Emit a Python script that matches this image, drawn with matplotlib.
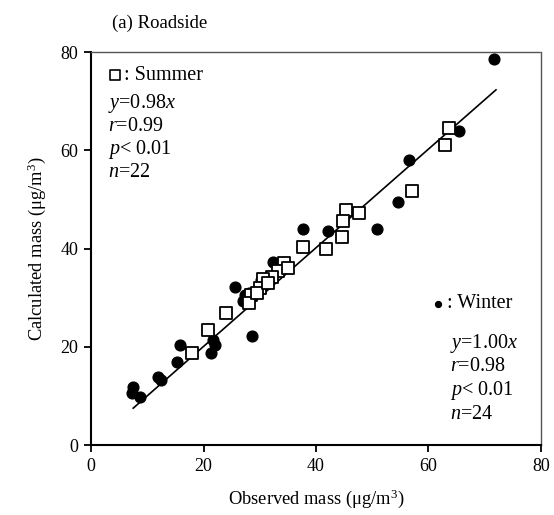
import matplotlib
matplotlib.use("Agg")
import matplotlib.pyplot as plt

plt.rcParams['font.family'] = ['Liberation Serif', 'DejaVu Serif']
plt.rcParams['mathtext.fontset'] = 'custom'
plt.rcParams['mathtext.rm'] = 'Liberation Serif'
plt.rcParams['mathtext.it'] = 'Liberation Serif:italic'

# Summer (open squares)
summer_obs = [63.6, 62.9, 57.0, 47.6, 45.3, 44.8, 44.6, 41.8, 37.7, 34.3, 33.3,
              32.2, 30.5, 30.0, 28.5, 24.0, 20.8, 18.0, 28.0, 29.5, 31.5, 35.0]
summer_calc = [64.5, 61.0, 51.8, 47.2, 47.8, 45.5, 42.3, 40.0, 40.3, 37.0, 35.5,
               34.2, 33.8, 32.0, 30.5, 26.8, 23.5, 18.7, 29.0, 31.0, 33.0, 36.0]

# Winter (filled circles)
winter_obs = [71.6, 65.5, 56.5, 54.6, 50.9, 42.1, 37.7, 32.3, 25.6, 27.3, 27.0, 28.0,
              30.3, 28.6, 21.7, 21.3, 22.0, 15.8, 15.3, 11.9, 12.5, 7.5, 8.7, 7.3]
winter_calc = [78.5, 64.0, 58.0, 49.5, 44.0, 43.5, 44.0, 37.2, 32.2, 30.5, 29.3, 31.0,
               33.5, 22.2, 21.4, 18.8, 20.3, 20.3, 16.9, 13.8, 13.3, 11.8, 9.8, 10.5]

# Regression line endpoints
line_x = [7.5, 72.0]
line_y = [7.5, 72.3]

ticks = [0, 20, 40, 60, 80]

fig = plt.figure(figsize=(5.54, 5.15), dpi=100)
ax = fig.add_axes([0.1643, 0.1359, 0.8122, 0.7631])

ax.plot(line_x, line_y, color='black', lw=1.2, zorder=2)
ax.scatter(winter_obs, winter_calc, marker='o', s=60, color='black', zorder=3)
ax.scatter(summer_obs, summer_calc, marker='s', s=75, facecolor='white',
           edgecolor='black', linewidths=1.3, zorder=4)

ax.set_xlim(0, 80)
ax.set_ylim(0, 80)
ax.set_xticks(ticks)
ax.set_yticks(ticks)
ax.tick_params(direction='out', length=5, width=1.3, labelsize=13, pad=4)

for s in ['left', 'bottom']:
    ax.spines[s].set_linewidth(1.5)
for s in ['top', 'right']:
    ax.spines[s].set_linestyle((0, (1, 1)))
    ax.spines[s].set_color('#555555')
    ax.spines[s].set_linewidth(1.0)

ax.set_xlabel('Observed mass (μg/m$^3$)', fontsize=13.3, labelpad=9)
ax.set_ylabel('Calculated mass (μg/m$^3$)', fontsize=13.3, labelpad=9)

fig.text(0.202, 0.955, '(a) Roadside', fontsize=13.5, va='center', ha='left')

fs = 14.5
# Summer legend block
ax.scatter([4.3], [75.3], marker='s', s=45, facecolor='white', edgecolor='black',
           linewidths=1.2, zorder=5)
ax.text(5.8, 75.3, ': Summer', fontsize=fs, va='center', ha='left')
ax.text(3.0, 69.6, r'$y$=0.98$x$', fontsize=fs, va='center', ha='left')
ax.text(3.0, 64.8, r'$r$=0.99', fontsize=fs, va='center', ha='left')
ax.text(3.0, 60.1, r'$p$< 0.01', fontsize=fs, va='center', ha='left')
ax.text(3.0, 55.4, r'$n$=22', fontsize=fs, va='center', ha='left')

# Winter legend block
ax.scatter([61.7], [28.8], marker='o', s=18, color='black', zorder=5)
ax.text(63.3, 28.8, ': Winter', fontsize=fs, va='center', ha='left')
ax.text(63.8, 20.6, r'$y$=1.00$x$', fontsize=fs, va='center', ha='left')
ax.text(63.8, 15.9, r'$r$=0.98', fontsize=fs, va='center', ha='left')
ax.text(63.8, 11.1, r'$p$< 0.01', fontsize=fs, va='center', ha='left')
ax.text(63.8, 6.2, r'$n$=24', fontsize=fs, va='center', ha='left')

fig.savefig('out.png', dpi=100)
